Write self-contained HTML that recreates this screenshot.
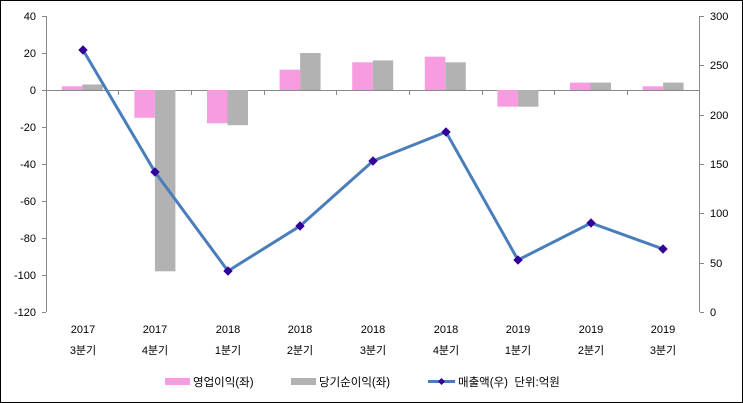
<!DOCTYPE html>
<html><head><meta charset="utf-8"><style>
body{margin:0;background:#fff}
svg{display:block;font-family:"Liberation Sans","Noto Sans CJK KR",sans-serif;font-size:11px}
</style></head><body>
<svg width="743" height="403" viewBox="0 0 743 403" xmlns="http://www.w3.org/2000/svg">
<rect x="0.5" y="0.5" width="742" height="402" fill="#fff" stroke="#000"/>
<g stroke="#888" stroke-width="1" fill="none">
<line x1="46.5" y1="16" x2="46.5" y2="312"/>
<line x1="699.5" y1="16" x2="699.5" y2="312"/>
<line x1="46" y1="90.5" x2="700" y2="90.5"/>
<path d="M42 16.5h4M42 53.5h4M42 90.5h4M42 127.5h4M42 164.5h4M42 201.5h4M42 238.5h4M42 275.5h4M42 312.5h4"/>
<path d="M700 16.5h4M700 65.5h4M700 115.5h4M700 164.5h4M700 213.5h4M700 263.5h4M700 312.5h4"/>
<path d="M118.5 90v5M191.5 90v5M264.5 90v5M336.5 90v5M409.5 90v5M482.5 90v5M554.5 90v5M627.5 90v5M699.5 90v5"/>
</g>
<g font-size="11" fill="#000" text-anchor="end">
<text x="36" y="20">40</text><text x="36" y="57">20</text><text x="36" y="94">0</text>
<text x="36" y="131">-20</text><text x="36" y="168">-40</text><text x="36" y="205">-60</text>
<text x="36" y="242">-80</text><text x="36" y="279">-100</text><text x="36" y="316">-120</text>
</g>
<g font-size="11" fill="#000" text-anchor="start">
<text x="710" y="20">300</text><text x="710" y="69">250</text><text x="710" y="119">200</text>
<text x="710" y="168">150</text><text x="710" y="217">100</text><text x="710" y="267">50</text><text x="710" y="316">0</text>
</g>
<g fill="#f79ce0">
<rect x="61.8" y="86.3" width="20.5" height="3.7"/>
<rect x="134.4" y="90" width="20.5" height="27.8"/>
<rect x="207" y="90" width="20.5" height="33.3"/>
<rect x="279.6" y="69.7" width="20.5" height="20.3"/>
<rect x="352.2" y="62.3" width="20.5" height="27.7"/>
<rect x="424.8" y="56.7" width="20.5" height="33.3"/>
<rect x="497.4" y="90" width="20.5" height="16.7"/>
<rect x="570" y="82.6" width="20.5" height="7.4"/>
<rect x="642.6" y="86.3" width="20.5" height="3.7"/>
</g>
<g fill="#b2b2b2">
<rect x="82.3" y="84.5" width="20.5" height="5.5"/>
<rect x="154.9" y="90" width="20.5" height="181.3"/>
<rect x="227.5" y="90" width="20.5" height="35.2"/>
<rect x="300.1" y="53" width="20.5" height="37"/>
<rect x="372.7" y="60.4" width="20.5" height="29.6"/>
<rect x="445.3" y="62.3" width="20.5" height="27.7"/>
<rect x="517.9" y="90" width="20.5" height="16.7"/>
<rect x="590.5" y="82.6" width="20.5" height="7.4"/>
<rect x="663.1" y="82.6" width="20.5" height="7.4"/>
</g>
<polyline fill="none" stroke="#4a7ebb" stroke-width="3" points="83,50 155,172 228,271 300,226 373,161 446,132 518,260 591,223 663,249"/>
<g fill="#330099" stroke="#330099">
<path d="M83 46l4 4-4 4-4-4z"/><path d="M155 168l4 4-4 4-4-4z"/><path d="M228 267l4 4-4 4-4-4z"/>
<path d="M300 222l4 4-4 4-4-4z"/><path d="M373 157l4 4-4 4-4-4z"/><path d="M446 128l4 4-4 4-4-4z"/>
<path d="M518 256l4 4-4 4-4-4z"/><path d="M591 219l4 4-4 4-4-4z"/><path d="M663 245l4 4-4 4-4-4z"/>
</g>
<g font-size="11" fill="#000" text-anchor="middle">
<text x="83" y="333">2017</text><text x="155" y="333">2017</text><text x="228" y="333">2018</text>
<text x="300" y="333">2018</text><text x="373" y="333">2018</text><text x="446" y="333">2018</text>
<text x="518" y="333">2019</text><text x="591" y="333">2019</text><text x="663" y="333">2019</text>
<text x="83" y="354">3분기</text><text x="155" y="354">4분기</text><text x="228" y="354">1분기</text>
<text x="300" y="354">2분기</text><text x="373" y="354">3분기</text><text x="446" y="354">4분기</text>
<text x="518" y="354">1분기</text><text x="591" y="354">2분기</text><text x="663" y="354">3분기</text>
</g>
<rect x="165" y="378" width="25" height="7" fill="#f79ce0"/>
<text x="193" y="386" font-size="11.5">영업이익(좌)</text>
<rect x="291" y="378" width="25" height="7" fill="#b2b2b2"/>
<text x="319" y="386" font-size="11.5">당기순이익(좌)</text>
<line x1="428" y1="381.5" x2="455" y2="381.5" stroke="#4a7ebb" stroke-width="3"/>
<path d="M441.5 378l3.5 3.5-3.5 3.5-3.5-3.5z" fill="#330099"/>
<text x="458" y="386" font-size="11.5">매출액(우)&#160;&#160;단위:억원</text>
</svg>
</body></html>
